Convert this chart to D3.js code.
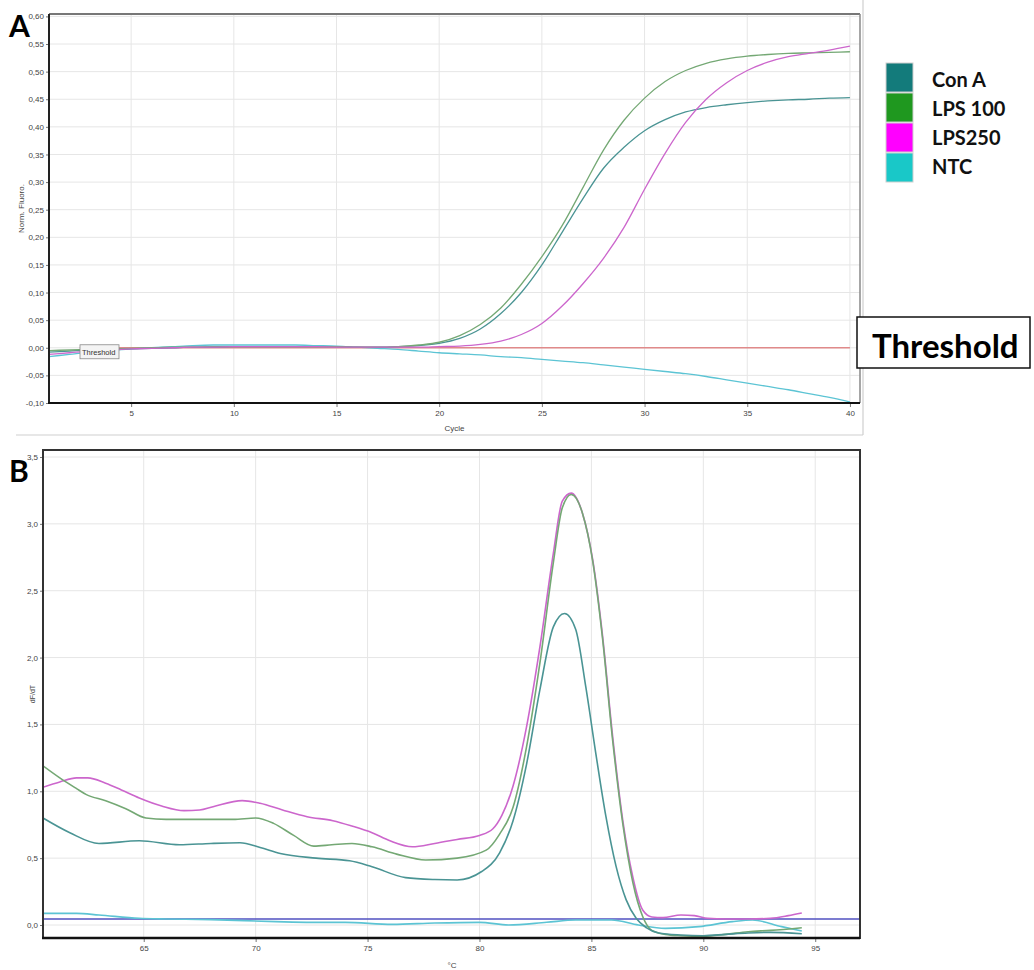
<!DOCTYPE html>
<html><head><meta charset="utf-8">
<script src="https://cdn.jsdelivr.net/npm/d3@7"></script>
<style>body{margin:0;background:#fff}svg{display:block}</style>
</head><body>
<svg id="c" width="1034" height="970"></svg>
<script>
// ---------- DATA ----------
const cycles = d3.range(1, 41);
const ampConA   = [-0.008,-0.006,-0.004,-0.003,-0.002,-0.001,0.000,0.001,0.001,0.002,0.002,0.002,0.002,0.002,0.002,0.001,0.001,0.002,0.004,0.008,0.017,0.034,0.062,0.100,0.150,0.210,0.270,0.325,0.363,0.393,0.413,0.427,0.435,0.440,0.444,0.447,0.449,0.450,0.452,0.453];
const ampLPS100 = [-0.005,-0.004,-0.003,-0.002,-0.001,0.000,0.001,0.001,0.002,0.002,0.002,0.002,0.002,0.002,0.002,0.001,0.001,0.002,0.005,0.010,0.022,0.042,0.072,0.115,0.165,0.222,0.290,0.358,0.412,0.452,0.482,0.502,0.515,0.523,0.528,0.531,0.533,0.534,0.535,0.536];
const ampLPS250 = [-0.012,-0.009,-0.006,-0.004,-0.002,-0.001,0.000,0.001,0.001,0.002,0.002,0.002,0.002,0.002,0.001,0.001,0.001,0.001,0.001,0.002,0.003,0.006,0.012,0.024,0.044,0.076,0.116,0.162,0.218,0.287,0.352,0.408,0.450,0.480,0.502,0.517,0.527,0.533,0.539,0.546];
const ampNTC    = [-0.016,-0.012,-0.008,-0.005,-0.002,0.000,0.002,0.004,0.005,0.005,0.005,0.005,0.005,0.004,0.003,0.001,-0.001,-0.003,-0.006,-0.009,-0.011,-0.013,-0.016,-0.018,-0.021,-0.024,-0.027,-0.031,-0.035,-0.039,-0.043,-0.047,-0.052,-0.058,-0.064,-0.070,-0.076,-0.083,-0.090,-0.098];
const thresholdA = 0.0;
const thresholdStart = 2.5;

const meltTConA = [60.5,61.7,63.0,64.8,66.6,68.0,69.3,70.2,71.1,72.7,74.2,75.2,76.7,78.0,79.0,80.1,80.9,81.5,82.1,82.7,83.3,83.8,84.3,84.75,85.2,85.65,86.1,86.55,87.0,87.45,88.0,89.0,90.0,91.0,92.0,93.0,94.4];
const meltConA  = [0.80,0.69,0.61,0.63,0.60,0.61,0.615,0.58,0.535,0.50,0.48,0.436,0.354,0.34,0.337,0.40,0.54,0.78,1.20,1.76,2.23,2.33,2.21,1.78,1.28,0.81,0.44,0.19,0.05,-0.02,-0.06,-0.075,-0.08,-0.07,-0.06,-0.055,-0.065];
const meltTLPS100 = [60.5,61.25,62.0,62.44,63.3,64.2,65.1,66.0,67.5,69.0,70.0,70.8,71.7,72.6,73.4,74.3,75.2,76.3,77.6,79.0,80.3,80.9,81.5,82.1,82.7,83.3,83.7,84.1,84.6,85.06,85.5,85.95,86.4,86.85,87.3,87.7,88.3,89.0,90.0,91.0,92.0,93.0,94.4];
const meltLPS100  = [1.19,1.10,1.02,0.975,0.93,0.87,0.80,0.79,0.79,0.79,0.80,0.76,0.67,0.59,0.60,0.61,0.585,0.53,0.486,0.50,0.56,0.68,0.88,1.33,1.96,2.71,3.12,3.22,3.08,2.72,2.14,1.38,0.76,0.32,0.06,-0.04,-0.07,-0.08,-0.085,-0.07,-0.05,-0.04,-0.02];
const meltTLPS250 = [60.5,61.25,62.0,62.5,63.3,64.0,64.8,65.8,66.8,67.5,68.1,69.4,70.2,71.2,72.3,73.45,74.3,75.2,76.0,77.0,78.0,79.0,80.0,80.6,81.0,81.5,82.1,82.7,83.3,83.7,84.1,84.6,85.06,85.5,85.95,86.4,86.85,87.3,87.7,88.2,89.0,89.6,90.2,91.0,92.0,93.0,93.8,94.4];
const meltLPS250  = [1.03,1.07,1.10,1.10,1.06,1.01,0.95,0.89,0.855,0.86,0.885,0.93,0.91,0.86,0.81,0.78,0.74,0.69,0.63,0.585,0.61,0.64,0.67,0.72,0.82,1.04,1.48,2.08,2.78,3.17,3.23,3.08,2.73,2.16,1.41,0.785,0.36,0.11,0.06,0.055,0.075,0.07,0.05,0.045,0.045,0.05,0.07,0.09];
const meltTNTC = [60.5,62.0,63.0,64.8,66.0,68.0,70.9,72.5,74.0,76.1,78.0,80.0,81.3,83.0,84.3,85.9,87.1,88.3,89.8,91.3,92.2,93.5,94.4];
const meltNTC  = [0.087,0.087,0.075,0.05,0.045,0.04,0.025,0.02,0.02,0.005,0.015,0.02,0.0,0.02,0.037,0.037,0.0,-0.025,-0.012,0.025,0.037,-0.012,-0.045];
const thresholdB = 0.045;

const seriesNames = ["Con A", "LPS 100", "LPS250", "NTC"];
const legendColors = ["#137b7b", "#1f981f", "#ff00ff", "#19c8c8"];
const lineColors = ["#4a9494", "#74a874", "#cc66cc", "#5cc4d4"];

const xTicksA = [5,10,15,20,25,30,35,40];
const yTicksA = [-0.10,-0.05,0,0.05,0.10,0.15,0.20,0.25,0.30,0.35,0.40,0.45,0.50,0.55,0.60];
const xTicksB = [65,70,75,80,85,90,95];
const yTicksB = [0,0.5,1.0,1.5,2.0,2.5,3.0,3.5];

// ---------- DRAW ----------
const svg = d3.select("#c");
const fmt2 = d => d3.format(".2f")(d).replace(".", ",").replace("−","-");
const fmt1 = d => d3.format(".1f")(d).replace(".", ",");

function panel(o) {
  const g = svg.append("g");
  const {x, y, L, T, R, B} = o;
  g.append("g").selectAll("line").data(o.yTicks).join("line")
    .attr("x1", L).attr("x2", R).attr("y1", d => y(d)).attr("y2", d => y(d))
    .attr("stroke", "#e6e6e6").attr("stroke-width", 1);
  g.append("g").selectAll("line").data(o.xTicks).join("line")
    .attr("y1", T).attr("y2", B).attr("x1", d => x(d)).attr("x2", d => x(d))
    .attr("stroke", "#e6e6e6").attr("stroke-width", 1);
  const ax = g.append("g").attr("transform", `translate(0,${B})`)
    .call(d3.axisBottom(x).tickValues(o.xTicks).tickSize(4).tickPadding(3).tickFormat(d3.format("d")));
  const ay = g.append("g").attr("transform", `translate(${L},0)`)
    .call(d3.axisLeft(y).tickValues(o.yTicks).tickSize(3).tickPadding(2).tickFormat(o.yFmt));
  [ax, ay].forEach(a => {
    a.select(".domain").remove();
    a.selectAll("line").attr("stroke", "#777");
    a.selectAll("text").attr("font-family", "Liberation Sans, Arial, sans-serif")
      .attr("font-size", 8).attr("fill", "#444");
  });
  return g;
}

// Panel A
const LA = 49, TA = 14, RA = 860, BA = 403;
const xA = d3.scaleLinear().domain([1, 40.49]).range([LA, RA]);
const yA = d3.scaleLinear().domain([-0.10, 0.60]).range([BA, 16.4]);
const gA = panel({x: xA, y: yA, L: LA, T: TA, R: RA, B: BA, xTicks: xTicksA, yTicks: yTicksA, yFmt: fmt2});

gA.append("line").attr("x1", xA(thresholdStart)).attr("x2", xA(40))
  .attr("y1", yA(thresholdA)).attr("y2", yA(thresholdA))
  .attr("stroke", "#e08a8a").attr("stroke-width", 1.6);

const ampSeries = [ampConA, ampLPS100, ampLPS250, ampNTC];
const lineA = d3.line().x((d, i) => xA(cycles[i])).y(d => yA(d)).curve(d3.curveMonotoneX);
[3, 0, 1, 2].forEach(k => {
  gA.append("path").datum(ampSeries[k]).attr("d", lineA)
    .attr("fill", "none").attr("stroke", lineColors[k]).attr("stroke-width", 1.3);
});

gA.append("rect").attr("x", 80).attr("y", yA(thresholdA) - 3).attr("width", 39).attr("height", 14)
  .attr("fill", "#f4f4f4").attr("stroke", "#888").attr("stroke-width", 0.8);
gA.append("text").attr("x", 82).attr("y", yA(thresholdA) + 7.5).text("Threshold")
  .attr("font-family", "Liberation Sans, Arial, sans-serif").attr("font-size", 7.5).attr("fill", "#333");

gA.append("line").attr("x1", LA).attr("x2", RA).attr("y1", TA).attr("y2", TA).attr("stroke", "#777").attr("stroke-width", 2);
gA.append("line").attr("x1", RA).attr("x2", RA).attr("y1", TA).attr("y2", BA).attr("stroke", "#888").attr("stroke-width", 1.5);
gA.append("line").attr("x1", LA).attr("x2", LA).attr("y1", TA).attr("y2", BA).attr("stroke", "#222").attr("stroke-width", 2);
gA.append("line").attr("x1", LA - 1).attr("x2", RA).attr("y1", BA).attr("y2", BA).attr("stroke", "#111").attr("stroke-width", 2.2);

gA.append("text").attr("transform", `translate(24,${(TA + BA) / 2}) rotate(-90)`).attr("text-anchor", "middle")
  .text("Norm. Fluoro.").attr("font-family", "Liberation Sans, Arial, sans-serif").attr("font-size", 8).attr("fill", "#444");
gA.append("text").attr("x", (LA + RA) / 2).attr("y", 431).attr("text-anchor", "middle")
  .text("Cycle").attr("font-family", "Liberation Sans, Arial, sans-serif").attr("font-size", 8).attr("fill", "#444");

svg.append("line").attr("x1", 16).attr("x2", 863).attr("y1", 435).attr("y2", 435).attr("stroke", "#cfcfcf").attr("stroke-width", 1.2);
svg.append("line").attr("x1", 863).attr("x2", 863).attr("y1", 0).attr("y2", 435).attr("stroke", "#cfcfcf").attr("stroke-width", 1.2);

// Panel B
const LB = 43, TB = 450, RB = 860, BB = 938;
const xB = d3.scaleLinear().domain([60.5, 97.0]).range([LB, RB]);
const yB = d3.scaleLinear().domain([0, 3.5]).range([925, 457]);
const gB = panel({x: xB, y: yB, L: LB, T: TB, R: RB, B: BB, xTicks: xTicksB, yTicks: yTicksB, yFmt: fmt1});

svg.append("clipPath").attr("id", "clipB").append("rect")
  .attr("x", LB).attr("y", TB).attr("width", RB - LB).attr("height", BB - TB);

gB.append("line").attr("x1", LB).attr("x2", RB).attr("y1", yB(thresholdB)).attr("y2", yB(thresholdB))
  .attr("stroke", "#5050c0").attr("stroke-width", 1.6);

const meltT = [meltTConA, meltTLPS100, meltTLPS250, meltTNTC];
const meltV = [meltConA, meltLPS100, meltLPS250, meltNTC];
[3, 2, 1, 0].forEach(k => {
  const ln = d3.line().x((d, i) => xB(meltT[k][i])).y(d => yB(d)).curve(d3.curveMonotoneX);
  gB.append("path").datum(meltV[k]).attr("d", ln).attr("clip-path", "url(#clipB)")
    .attr("fill", "none").attr("stroke", lineColors[k]).attr("stroke-width", 1.6);
});

gB.append("rect").attr("x", LB).attr("y", TB).attr("width", RB - LB).attr("height", BB - TB)
  .attr("fill", "none").attr("stroke", "#333").attr("stroke-width", 2);
gB.append("line").attr("x1", LB - 1).attr("x2", RB).attr("y1", BB).attr("y2", BB).attr("stroke", "#111").attr("stroke-width", 2.4);

gB.append("text").attr("transform", `translate(35,${(TB + BB) / 2}) rotate(-90)`).attr("text-anchor", "middle")
  .text("dF/dT").attr("font-family", "Liberation Sans, Arial, sans-serif").attr("font-size", 7).attr("fill", "#444");
gB.append("text").attr("x", 452).attr("y", 968).attr("text-anchor", "middle")
  .text("°C").attr("font-family", "Liberation Sans, Arial, sans-serif").attr("font-size", 8).attr("fill", "#444");

svg.append("text").attr("x", 9).attr("y", 37).text("A")
  .attr("font-family", "Lato, sans-serif").attr("font-weight", 700).attr("font-size", 30).attr("fill", "#000");
svg.append("text").attr("x", 9).attr("y", 482).text("B")
  .attr("font-family", "Lato, sans-serif").attr("font-weight", 700).attr("font-size", 30).attr("fill", "#000");

const lg = svg.append("g");
seriesNames.forEach((name, i) => {
  lg.append("rect").attr("x", 886).attr("y", 63 + i * 30).attr("width", 27).attr("height", 29)
    .attr("fill", legendColors[i]).attr("stroke", "#cfcfcf").attr("stroke-width", 1);
  lg.append("text").attr("x", 932).attr("y", 87 + i * 29).text(name)
    .attr("font-family", "Lato, sans-serif").attr("font-weight", 700).attr("font-size", 20).attr("fill", "#111");
});

svg.append("rect").attr("x", 857).attr("y", 317).attr("width", 173).attr("height", 51)
  .attr("fill", "#fff").attr("stroke", "#111").attr("stroke-width", 1.5);
svg.append("text").attr("x", 872).attr("y", 358).text("Threshold")
  .attr("font-family", "Lato, sans-serif").attr("font-weight", 700).attr("font-size", 33).attr("fill", "#000");
</script>
</body></html>
